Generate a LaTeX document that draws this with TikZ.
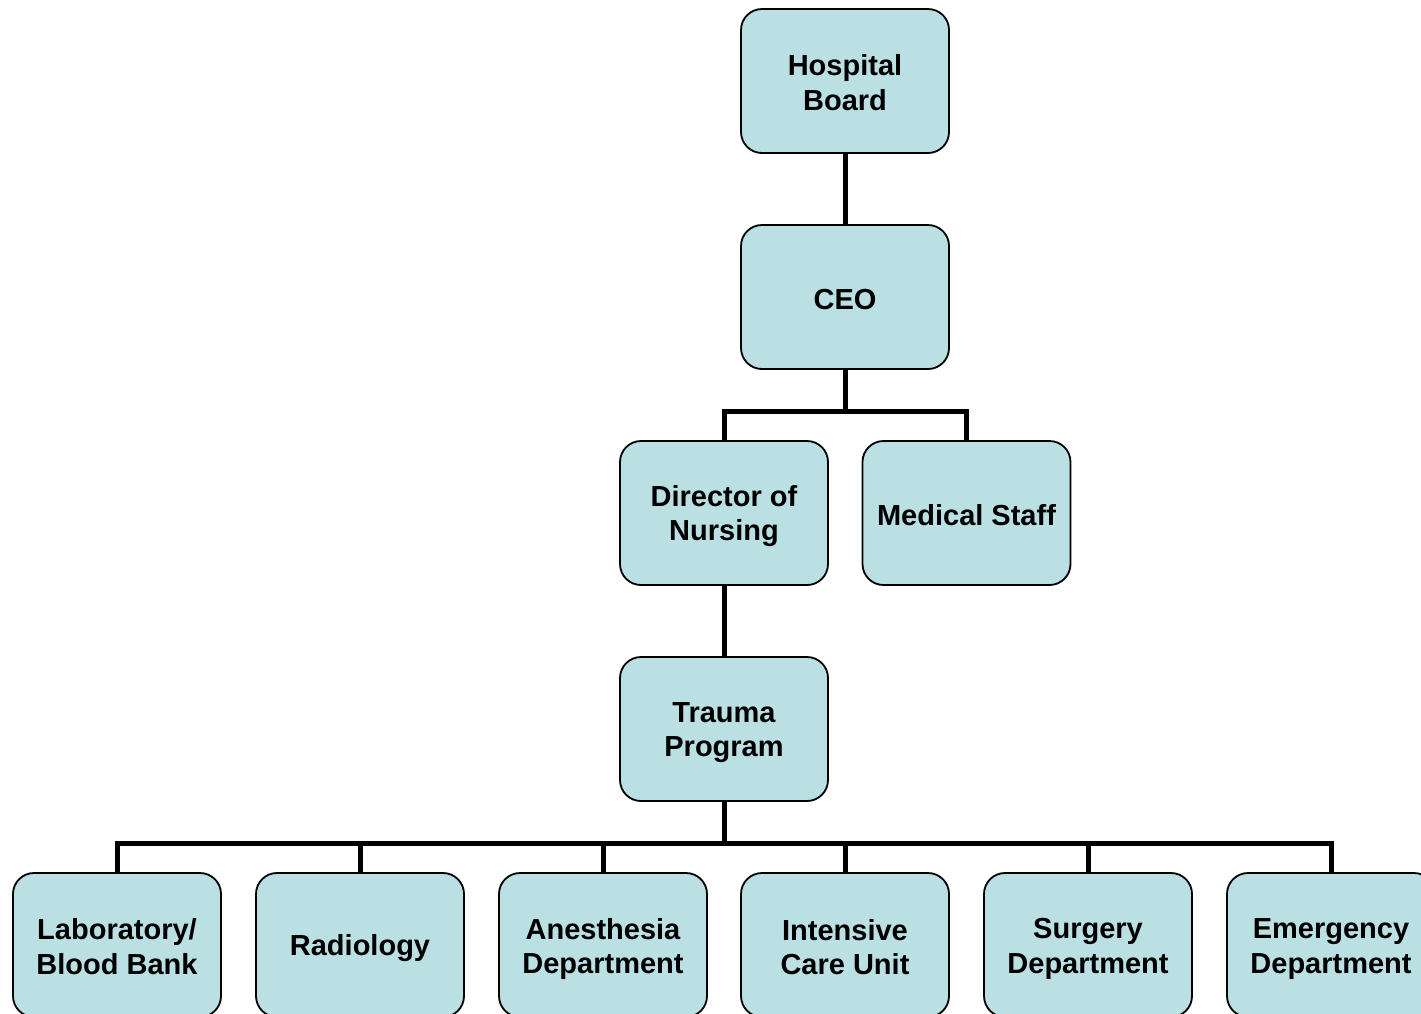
\documentclass[tikz,border=0pt]{standalone}
\usepackage{fontspec}
\setmainfont{Liberation Sans}
\usetikzlibrary{backgrounds}
\definecolor{boxfill}{HTML}{BAE0E3}
\newcommand\mystrut{\rule[-3.5pt]{0pt}{31.5pt}}
\tikzset{
  orgbox/.style={draw=black, line width=1.8pt, fill=boxfill, rounded corners=21pt,
    minimum width=208pt, minimum height=144pt, inner sep=0pt, align=center,
    font=\fontsize{29pt}{34pt}\selectfont\bfseries},
  conn/.style={draw=black, line width=5pt, line join=miter}
}
\begin{document}
\begin{tikzpicture}[x=1pt,y=-1pt]
\useasboundingbox (0,0) rectangle (1421,1013);
\node[orgbox] (hb) at (845,81) {Hospital\mystrut\\Board\mystrut};
\node[orgbox] (ceo) at (845,297) {CEO\mystrut};
\node[orgbox] (dn) at (724,513) {Director of\mystrut\\Nursing\mystrut};
\node[orgbox] (ms) at (966.5,513) {Medical Staff\mystrut};
\node[orgbox] (tp) at (724,729) {Trauma\mystrut\\Program\mystrut};
\node[orgbox] (lab) at (117,945) {Laboratory/\mystrut\\Blood Bank\mystrut};
\node[orgbox] (rad) at (360,945) {Radiology\mystrut};
\node[orgbox] (ane) at (603,945) {Anesthesia\mystrut\\Department\mystrut};
\node[orgbox] (icu) at (845,945) {Intensive\mystrut\\Care Unit\mystrut};
\node[orgbox] (sur) at (1088,945) {Surgery\mystrut\\Department\mystrut};
\node[orgbox] (er) at (1331,945) {Emergency\mystrut\\Department\mystrut};
\coordinate (j1) at (845,411);
\coordinate (j2) at (724,843);
\begin{scope}[on background layer]
\draw[conn] (hb.south) -- (ceo.north);
\draw[conn] (ceo.south) -- (j1);
\draw[conn] (dn.north) -- (dn.north |- j1) -- (ms.north |- j1) -- (ms.north);
\draw[conn] (dn.south) -- (tp.north);
\draw[conn] (tp.south) -- (j2);
\draw[conn] (lab.north) -- (lab.north |- j2) -- (er.north |- j2) -- (er.north);
\foreach \n in {rad,ane,icu,sur}{
  \draw[conn] (\n.north) -- (\n.north |- j2);
}
\end{scope}
\end{tikzpicture}
\end{document}
